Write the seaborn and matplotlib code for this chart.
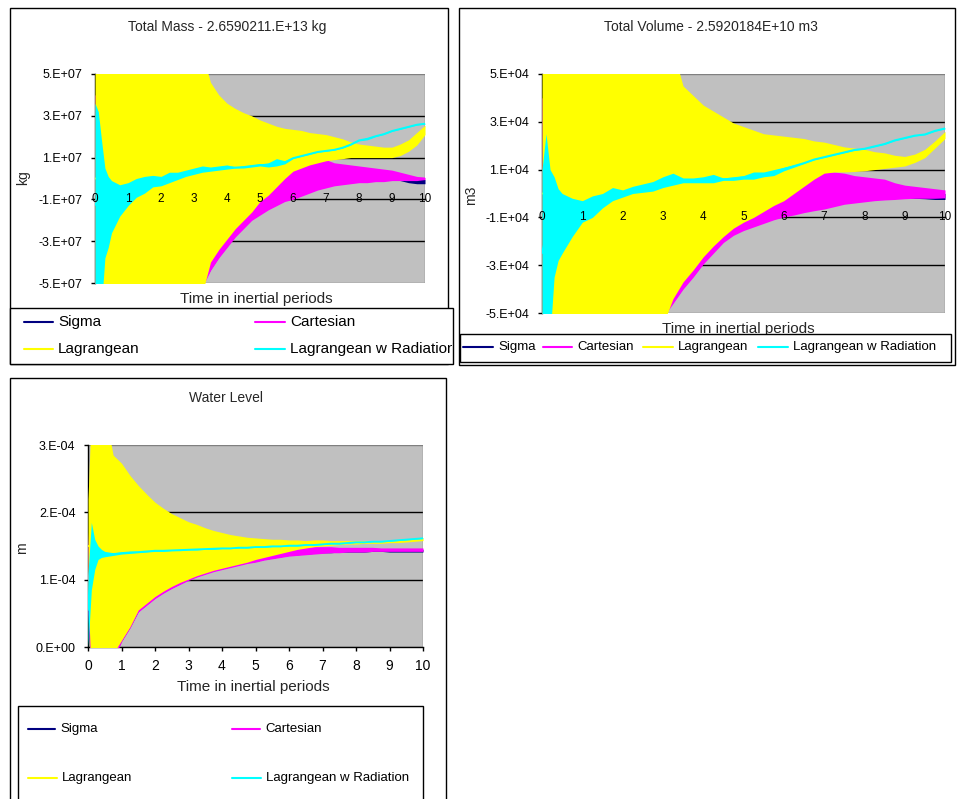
import matplotlib
matplotlib.use("Agg")
import numpy as np
import pandas as pd
import seaborn as sns
import matplotlib.pyplot as plt
from matplotlib.patches import Rectangle
from matplotlib.lines import Line2D
from matplotlib.transforms import Bbox, TransformedBbox

# ---------------------------------------------------------------- data
series_names = ["Sigma", "Cartesian", "Lagrangean", "Lagrangean w Radiation"]
series_colors = ["#000080", "#FF00FF", "#FFFF00", "#00FFFF"]

time_periods = [0, 0.1, 0.2, 0.3, 0.4, 0.5, 0.75, 1.0, 1.25, 1.5, 1.75, 2.0, 2.25, 2.5,
                2.75, 3.0, 3.25, 3.5, 3.75, 4.0, 4.25, 4.5, 4.75, 5.0, 5.25, 5.5, 5.75,
                6.0, 6.25, 6.5, 6.75, 7.0, 7.25, 7.5, 7.75, 8.0, 8.25, 8.5, 8.75, 9.0,
                9.25, 9.5, 9.75, 10.0]
x_tick_values = [0, 1, 2, 3, 4, 5, 6, 7, 8, 9, 10]
x_tick_labels = ["0", "1", "2", "3", "4", "5", "6", "7", "8", "9", "10"]

# Total mass deviation (units of 1e7 kg): lower / upper envelope of each oscillating series
mass_unit = 1e7
mass_sig_lo = [-5.5, -5.5, -5.5, -5.5, -5.5, -5.5, -5.5, -5.5, -5.5, -5.5, -5.5, -5.5, -5.5, -5.5, -5.5, -5.5,
               -5.1, -4.35, -3.75, -3.25, -2.75, -2.35, -1.95, -1.7, -1.45, -1.25, -1.05, -0.95, -0.8, -0.65,
               -0.5, -0.4, -0.3, -0.25, -0.2, -0.15, -0.15, -0.1, -0.1, -0.05, -0.1, -0.2, -0.25, -0.25]
mass_sig_hi = [3.5, 3.5, 3.5, 3.5, 3.5, 3.5, 3.5, 3.5, 3.5, 3.5, 3.5, 3.5, 3.5, 3.5, 3.5, 3.5,
               1.8, 1.3, 0.8, 0.4, 0.2, -0.1, -0.1, -0.1, 0.0, 0.1, 0.3, 0.4, 0.5, 0.6,
               0.7, 0.7, 0.6, 0.5, 0.5, 0.45, 0.4, 0.35, 0.3, 0.25, 0.15, 0.05, 0.0, -0.05]
mass_car_lo = [-5.5, -5.5, -5.5, -5.5, -5.5, -5.5, -5.5, -5.5, -5.5, -5.5, -5.5, -5.5, -5.5, -5.5, -5.5, -5.5,
               -5.2, -4.4, -3.8, -3.3, -2.8, -2.4, -2.0, -1.75, -1.5, -1.3, -1.1, -1.0, -0.85, -0.7,
               -0.55, -0.45, -0.35, -0.3, -0.25, -0.2, -0.2, -0.15, -0.15, -0.1, -0.1, -0.1, -0.1, -0.05]
mass_car_hi = [4, 4, 4, 4, 4, 4, 4, 4, 4, 4, 4, 4, 4, 4, 4, 4,
               2.0, 1.5, 1.0, 0.5, 0.3, 0.0, 0.0, 0.0, 0.1, 0.2, 0.4, 0.5, 0.6, 0.75,
               0.9, 0.9, 0.75, 0.7, 0.65, 0.6, 0.55, 0.5, 0.45, 0.4, 0.3, 0.2, 0.1, 0.05]
mass_lag_lo = [-6, -6, -6, -6, -6, -6, -6, -6, -6, -6, -6, -6, -6, -6, -6, -6, -5.5,
               -4.0, -3.4, -2.9, -2.4, -2.0, -1.6, -1.1, -0.8, -0.4, 0.0, 0.35, 0.5, 0.65,
               0.75, 0.85, 0.9, 0.95, 1.0, 1.0, 1.0, 1.0, 1.0, 1.0, 1.1, 1.3, 1.6, 2.1]
mass_lag_hi = [6, 6, 6, 6, 6, 6, 6, 6, 6, 6, 6, 6, 6, 6, 6, 6, 6,
               4.6, 4.0, 3.6, 3.35, 3.15, 3.0, 2.8, 2.65, 2.5, 2.4, 2.35, 2.3, 2.2,
               2.15, 2.1, 2.0, 1.9, 1.75, 1.65, 1.6, 1.55, 1.5, 1.5, 1.65, 1.85, 2.2, 2.55]
mass_rad_lo = [-6, -6, -6, -3.8, -3.3, -2.6, -1.8, -1.3, -0.9, -0.7, -0.4, -0.35, -0.2, -0.05,
               0.1, 0.2, 0.3, 0.35, 0.4, 0.45, 0.5, 0.5, 0.55, 0.6, 0.55, 0.6, 0.7, 0.95,
               1.05, 1.15, 1.25, 1.3, 1.35, 1.45, 1.6, 1.8, 1.85, 2.0, 2.1, 2.25, 2.35, 2.45, 2.55, 2.6]
mass_rad_hi = [3.6, 3.2, 1.8, 0.5, 0.1, -0.1, -0.3, -0.2, 0.0, 0.1, 0.15, 0.1, 0.3, 0.3,
               0.4, 0.5, 0.6, 0.55, 0.6, 0.65, 0.55, 0.6, 0.65, 0.7, 0.75, 0.95, 0.85, 1.0,
               1.1, 1.2, 1.3, 1.35, 1.4, 1.5, 1.65, 1.85, 1.95, 2.05, 2.15, 2.3, 2.4, 2.5, 2.6, 2.65]
mass_ticks = [-5e7, -3e7, -1e7, 1e7, 3e7, 5e7]
mass_tick_labels = ["-5.E+07", "-3.E+07", "-1.E+07", "1.E+07", "3.E+07", "5.E+07"]

# Total volume deviation (units of 1e4 m3)
vol_unit = 1e4
vol_sig_lo = [-5.5, -5.5, -5.5, -5.5, -5.5, -5.5, -5.5, -5.5, -5.5, -5.5, -5.5, -5.5, -5.5, -5.5, -5.5,
              -5.1, -4.55, -3.95, -3.45, -2.9, -2.45, -2.0, -1.7, -1.5, -1.35, -1.2, -1.05, -0.93, -0.85,
              -0.75, -0.67, -0.6, -0.5, -0.4, -0.35, -0.3, -0.25, -0.22, -0.2, -0.18, -0.2, -0.22, -0.25, -0.25]
vol_sig_hi = [3.5, 3.5, 3.5, 3.5, 3.5, 3.5, 3.5, 3.5, 3.5, 3.5, 3.5, 3.5, 3.5, 3.5, 3.5, 3.5,
              1.8, 1.3, 0.8, 0.3, 0.0, -0.2, -0.3, -0.3, -0.2, -0.1, 0.0, 0.1, 0.2, 0.3,
              0.5, 0.6, 0.6, 0.55, 0.5, 0.45, 0.4, 0.35, 0.3, 0.2, 0.15, 0.1, 0.05, 0.0]
vol_car_lo = [-5.5, -5.5, -5.5, -5.5, -5.5, -5.5, -5.5, -5.5, -5.5, -5.5, -5.5, -5.5, -5.5, -5.5, -5.5,
              -5.2, -4.6, -4.0, -3.5, -2.95, -2.5, -2.05, -1.75, -1.55, -1.4, -1.25, -1.1, -0.98, -0.9,
              -0.8, -0.72, -0.65, -0.55, -0.45, -0.4, -0.35, -0.3, -0.27, -0.25, -0.22, -0.2, -0.2, -0.2, -0.18]
vol_car_hi = [4, 4, 4, 4, 4, 4, 4, 4, 4, 4, 4, 4, 4, 4, 4, 4,
              2.0, 1.5, 1.0, 0.5, 0.2, 0.0, -0.1, -0.1, 0.0, 0.05, 0.15, 0.3, 0.45, 0.55,
              0.8, 0.9, 0.9, 0.85, 0.75, 0.7, 0.65, 0.6, 0.45, 0.35, 0.3, 0.25, 0.2, 0.15]
vol_lag_lo = [-6, -6, -6, -6, -6, -6, -6, -6, -6, -6, -6, -6, -6, -6, -6,
              -5.5, -4.4, -3.7, -3.2, -2.65, -2.2, -1.8, -1.45, -1.2, -1.0, -0.75, -0.5, -0.3, 0.0,
              0.3, 0.6, 0.85, 0.9, 0.9, 0.92, 0.95, 1.0, 1.05, 1.1, 1.15, 1.3, 1.5, 1.9, 2.3]
vol_lag_hi = [6, 6, 6, 6, 6, 6, 6, 6, 6, 6, 6, 6, 6, 6, 6, 6, 6,
              4.5, 4.1, 3.7, 3.45, 3.2, 2.95, 2.8, 2.65, 2.5, 2.45, 2.4, 2.35, 2.3,
              2.2, 2.15, 2.05, 1.95, 1.9, 1.85, 1.75, 1.7, 1.6, 1.55, 1.65, 1.85, 2.2, 2.6]
vol_rad_lo = [-6, -6, -6, -3.5, -2.8, -2.5, -1.8, -1.2, -1.0, -0.6, -0.3, -0.15, 0.0, 0.05,
              0.1, 0.25, 0.35, 0.45, 0.45, 0.45, 0.45, 0.55, 0.55, 0.6, 0.6, 0.7, 0.75, 0.95,
              1.1, 1.25, 1.4, 1.5, 1.6, 1.7, 1.8, 1.85, 1.95, 2.05, 2.2, 2.3, 2.4, 2.45, 2.6, 2.7]
vol_rad_hi = [1.0, 2.5, 1.0, 0.7, 0.2, 0.0, -0.2, -0.3, -0.1, 0.0, 0.25, 0.15, 0.3, 0.4,
              0.5, 0.7, 0.85, 0.65, 0.65, 0.7, 0.8, 0.65, 0.7, 0.75, 0.9, 0.9, 1.0, 1.1,
              1.2, 1.3, 1.45, 1.55, 1.65, 1.75, 1.85, 1.9, 2.0, 2.1, 2.25, 2.35, 2.45, 2.5, 2.65, 2.75]
vol_ticks = [-5e4, -3e4, -1e4, 1e4, 3e4, 5e4]
vol_tick_labels = ["-5.E+04", "-3.E+04", "-1.E+04", "1.E+04", "3.E+04", "5.E+04"]

# Water level (units of 1e-4 m)
level_unit = 1e-4
level_sig_lo = [0.5, -0.5, -0.5, -0.5, -0.5, -0.5, -0.19, 0.09, 0.29, 0.53, 0.63, 0.73, 0.81, 0.88,
                0.94, 1.0, 1.05, 1.09, 1.13, 1.16, 1.19, 1.22, 1.25, 1.27, 1.3, 1.32, 1.34, 1.36,
                1.37, 1.38, 1.39, 1.4, 1.4, 1.41, 1.41, 1.41, 1.41, 1.42, 1.42, 1.41, 1.41, 1.41, 1.41, 1.41]
level_sig_hi = [1.4, 2.8, 2.9, 2.8, 2.7, 2.7, 2.6, 2.5, 2.3, 2.2, 2.1, 2.0, 1.9, 1.85,
                1.75, 1.7, 1.65, 1.6, 1.56, 1.53, 1.5, 1.48, 1.46, 1.45, 1.44, 1.44, 1.44, 1.44,
                1.45, 1.45, 1.46, 1.46, 1.46, 1.46, 1.46, 1.46, 1.46, 1.46, 1.45, 1.45, 1.45, 1.45, 1.45, 1.45]
level_car_lo = [0.5, -0.5, -0.5, -0.5, -0.5, -0.5, -0.2, 0.08, 0.28, 0.52, 0.62, 0.72, 0.8, 0.87,
                0.93, 0.99, 1.04, 1.08, 1.12, 1.15, 1.18, 1.21, 1.24, 1.26, 1.29, 1.31, 1.33, 1.35,
                1.36, 1.37, 1.38, 1.39, 1.4, 1.4, 1.41, 1.41, 1.41, 1.42, 1.42, 1.42, 1.42, 1.42, 1.42, 1.42]
level_car_hi = [1.5, 2.9, 3.0, 2.9, 2.8, 2.8, 2.7, 2.6, 2.4, 2.3, 2.2, 2.05, 1.95, 1.9,
                1.8, 1.75, 1.7, 1.65, 1.6, 1.58, 1.55, 1.52, 1.5, 1.48, 1.47, 1.47, 1.47, 1.47,
                1.48, 1.48, 1.49, 1.49, 1.49, 1.48, 1.48, 1.48, 1.48, 1.48, 1.47, 1.47, 1.47, 1.47, 1.47, 1.47]
level_lag_lo = [0.8, -0.5, -0.5, -0.5, -0.5, -0.5, -0.1, 0.1, 0.3, 0.55, 0.65, 0.75, 0.83, 0.9,
                0.96, 1.01, 1.06, 1.1, 1.14, 1.17, 1.2, 1.23, 1.26, 1.3, 1.33, 1.36, 1.39, 1.42,
                1.45, 1.47, 1.49, 1.5, 1.51, 1.52, 1.53, 1.53, 1.54, 1.54, 1.54, 1.55, 1.55, 1.56, 1.57, 1.58]
level_lag_hi = [2.2, 3.5, 3.5, 3.5, 3.5, 3.5, 2.85, 2.73, 2.55, 2.4, 2.27, 2.15, 2.06, 1.98,
                1.92, 1.86, 1.82, 1.77, 1.73, 1.7, 1.67, 1.65, 1.63, 1.62, 1.61, 1.6, 1.6, 1.59,
                1.59, 1.58, 1.59, 1.59, 1.58, 1.58, 1.58, 1.58, 1.58, 1.58, 1.58, 1.58, 1.59, 1.6, 1.61, 1.62]
level_rad_lo = [0.0, 0.85, 1.15, 1.3, 1.33, 1.34, 1.36, 1.38, 1.39, 1.4, 1.41, 1.42, 1.42, 1.43,
                1.43, 1.44, 1.44, 1.45, 1.45, 1.46, 1.46, 1.47, 1.47, 1.48, 1.48, 1.49, 1.49, 1.5,
                1.5, 1.51, 1.51, 1.52, 1.53, 1.53, 1.54, 1.55, 1.55, 1.56, 1.56, 1.57, 1.58, 1.59, 1.6, 1.61]
level_rad_hi = [1.1, 1.85, 1.6, 1.5, 1.45, 1.42, 1.4, 1.41, 1.42, 1.42, 1.43, 1.44, 1.44, 1.44,
                1.45, 1.45, 1.46, 1.46, 1.47, 1.47, 1.47, 1.48, 1.48, 1.49, 1.49, 1.5, 1.5, 1.51,
                1.51, 1.52, 1.52, 1.53, 1.54, 1.54, 1.55, 1.56, 1.56, 1.57, 1.57, 1.58, 1.59, 1.6, 1.61, 1.62]
level_ticks = [0, 1e-4, 2e-4, 3e-4]
level_tick_labels = ["0.E+00", "1.E-04", "2.E-04", "3.E-04"]

# ---------------------------------------------------------------- style
sns.set_theme(style="white")
plt.rcParams["font.family"] = ["Liberation Sans", "DejaVu Sans"]

W, H = 959, 799
fig = plt.figure(figsize=(W / 100, H / 100), dpi=100)
fig.patch.set_facecolor("white")
palette = dict(zip(series_names, series_colors))


def fx(x):
    return x / W


def fy(y):
    return 1 - y / H


def long_table(envelopes, unit):
    rows = []
    for name, (lo, hi) in zip(series_names, envelopes):
        for t, a, b in zip(time_periods, lo, hi):
            rows.append((name, t, a * unit))
            rows.append((name, t, b * unit))
    return pd.DataFrame(rows, columns=["series", "t", "value"])


def make_axes(left, top, right, bottom):
    ax = fig.add_axes([fx(left), fy(bottom), (right - left) / W, (bottom - top) / H])
    ax.set_facecolor("#C0C0C0")
    return ax


def draw_series(ax, df):
    sns.lineplot(data=df, x="t", y="value", hue="series", hue_order=series_names,
                 palette=palette, estimator="mean", errorbar=("pi", 100),
                 err_kws={"alpha": 1, "linewidth": 0}, linewidth=1.3,
                 legend=False, ax=ax)
    for i, (ln, band) in enumerate(zip(ax.lines, ax.collections)):
        band.set_zorder(2 + 2 * i)
        ln.set_zorder(3 + 2 * i)


def style_axes(ax, ylim, yticks, ylabels, grid_vals, axis_at=None, xfs=8.5):
    ax.set_xlim(0, 10)
    ax.set_ylim(*ylim)
    ax.set_xlabel("")
    ax.set_ylabel("")
    ax.set_yticks(yticks, labels=ylabels)
    for g in grid_vals:
        ax.axhline(g, color="black", lw=1, zorder=1)
    for s in ["top", "right"]:
        ax.spines[s].set_visible(False)
    ax.add_patch(Rectangle((0, 0), 1, 1, transform=ax.transAxes, fill=False,
                           edgecolor="#808080", lw=1, zorder=1.2))
    for s in ["left", "bottom"]:
        ax.spines[s].set_color("black")
        ax.spines[s].set_linewidth(1)
        ax.spines[s].set_zorder(1.5)
    ax.tick_params(axis="y", left=True, length=3, width=1, color="black",
                   pad=6, labelsize=9, labelcolor="black")
    if axis_at is not None:
        ax.spines["bottom"].set_position(("data", axis_at))
        ax.set_xticks(x_tick_values, labels=x_tick_labels, va="center")
        ax.tick_params(axis="x", bottom=True, length=0, pad=0, labelsize=xfs,
                       labelcolor="black")
        ax.xaxis.set_zorder(30)
    else:
        ax.set_xticks(x_tick_values, labels=x_tick_labels)
        ax.tick_params(axis="x", bottom=True, length=3, width=1, color="black",
                       pad=6, labelsize=xfs, labelcolor="black")


def legend_entry(x0, x1, y, name, color, fs, clip_x=None):
    fig.add_artist(Line2D([fx(x0), fx(x1)], [fy(y), fy(y)], color=color, lw=1.5,
                          transform=fig.transFigure, zorder=6))
    t = fig.text(fx(x1 + 5), fy(y), name, fontsize=fs, va="center", ha="left",
                 color="black", zorder=6)
    if clip_x is not None:
        bb = Bbox([[0, 0], [fx(clip_x), 1]])
        t.set_clip_box(TransformedBbox(bb, fig.transFigure))
        t.set_clip_on(True)


def box(x0, y0, x1, y1, fill=False, z=1):
    fig.add_artist(Rectangle((fx(x0), fy(y1)), fx(x1) - fx(x0), fy(y0) - fy(y1),
                             transform=fig.transFigure, fill=fill, facecolor="white",
                             edgecolor="black", lw=1, zorder=z))


# ---------------------------------------------------------------- chart 1: total mass
ax1 = make_axes(95, 74, 425, 283)
draw_series(ax1, long_table([(mass_sig_lo, mass_sig_hi), (mass_car_lo, mass_car_hi),
                             (mass_lag_lo, mass_lag_hi), (mass_rad_lo, mass_rad_hi)], mass_unit))
style_axes(ax1, (-5e7, 5e7), mass_ticks, mass_tick_labels, [3e7, 1e7, -3e7], axis_at=-1e7)

box(10, 8, 448, 364)
box(10, 308, 453, 364, fill=True, z=5)
fig.text(fx(227), fy(27), "Total Mass - 2.6590211.E+13 kg", fontsize=10, ha="center", va="center")
fig.text(fx(256), fy(299), "Time in inertial periods", fontsize=11, ha="center", va="center")
fig.text(fx(23), fy(178), "kg", fontsize=10, rotation=90, ha="center", va="center")
legend_entry(24, 53, 322, series_names[0], series_colors[0], 11)
legend_entry(255, 285, 322, series_names[1], series_colors[1], 11)
legend_entry(24, 53, 349, series_names[2], series_colors[2], 11)
legend_entry(255, 285, 349, series_names[3], series_colors[3], 11, clip_x=452)

# ---------------------------------------------------------------- chart 2: total volume
ax2 = make_axes(542, 74, 945, 313)
draw_series(ax2, long_table([(vol_sig_lo, vol_sig_hi), (vol_car_lo, vol_car_hi),
                             (vol_lag_lo, vol_lag_hi), (vol_rad_lo, vol_rad_hi)], vol_unit))
style_axes(ax2, (-5e4, 5e4), vol_ticks, vol_tick_labels, [3e4, 1e4, -3e4], axis_at=-1e4)

box(459, 8, 955, 365)
fig.text(fx(711), fy(27), "Total Volume - 2.5920184E+10 m3", fontsize=10, ha="center", va="center")
fig.text(fx(738), fy(329), "Time in inertial periods", fontsize=11, ha="center", va="center")
fig.text(fx(471), fy(195), "m3", fontsize=10, rotation=90, ha="center", va="center")
box(460, 334, 951, 362, fill=True, z=5)
legend_entry(463, 493, 347, series_names[0], series_colors[0], 9.5)
legend_entry(543, 572, 347, series_names[1], series_colors[1], 9.5)
legend_entry(643, 673, 347, series_names[2], series_colors[2], 9.5)
legend_entry(758, 788, 347, series_names[3], series_colors[3], 9.5)

# ---------------------------------------------------------------- chart 3: water level
ax3 = make_axes(88, 445, 423, 647)
draw_series(ax3, long_table([(level_sig_lo, level_sig_hi), (level_car_lo, level_car_hi),
                             (level_lag_lo, level_lag_hi), (level_rad_lo, level_rad_hi)], level_unit))
style_axes(ax3, (0, 3e-4), level_ticks, level_tick_labels, [2e-4, 1e-4], axis_at=None, xfs=10)

box(10, 378, 446, 806)
fig.text(fx(226), fy(398), "Water Level", fontsize=10, ha="center", va="center")
fig.text(fx(253), fy(687), "Time in inertial periods", fontsize=11, ha="center", va="center")
fig.text(fx(22), fy(548), "m", fontsize=10, rotation=90, ha="center", va="center")
box(18, 706, 423, 806, fill=True, z=5)
legend_entry(28, 55, 729, series_names[0], series_colors[0], 9.5)
legend_entry(232, 260, 729, series_names[1], series_colors[1], 9.5)
legend_entry(28, 57, 778, series_names[2], series_colors[2], 9.5)
legend_entry(232, 261, 778, series_names[3], series_colors[3], 9.5)

fig.savefig("out.png", dpi=100, facecolor="white")
